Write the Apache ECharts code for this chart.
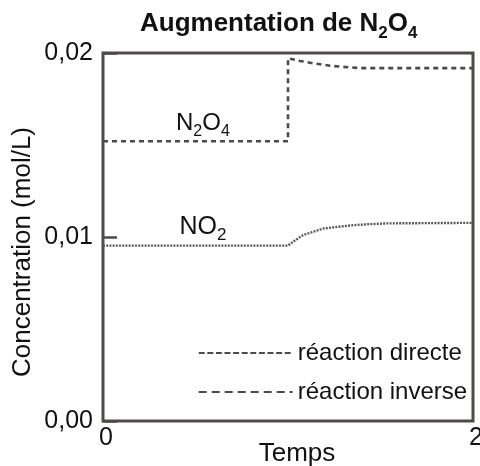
<!DOCTYPE html>
<html>
<head>
<meta charset="utf-8">
<script src="https://cdn.jsdelivr.net/npm/echarts@6/dist/echarts.min.js"></script>
<style>
  html, body { margin: 0; padding: 0; background: #fff; }
  #chart { width: 480px; height: 466px; }
</style>
</head>
<body>
<div id="chart"></div>
<script>
// Time axis (arbitrary units) and concentrations in mol/L
const timeNO2 = [0, 1.0, 1.027, 1.081, 1.135, 1.189, 1.265, 1.351, 1.443, 1.535, 2];
const concNO2 = [0.00953, 0.00953, 0.00974, 0.0101, 0.01028, 0.01046, 0.01055, 0.01064, 0.0107, 0.01074, 0.01077];

const timeN2O4 = [0, 1.0, 1.0, 1.065, 1.119, 1.173, 1.227, 1.281, 1.335, 1.389, 2];
const concN2O4 = [0.0152, 0.0152, 0.01971, 0.01957, 0.01947, 0.01939, 0.01931, 0.01926, 0.01922, 0.01918, 0.01918];

const yTicks = [0, 0.01, 0.02];
const xTicks = [0, 2];

// Where the species names sit, in data coordinates
const labelN2O4At = [0.54, 0.01612];
const labelNO2At = [0.54, 0.0105];

const legendText = { NO2: 'réaction directe', N2O4: 'réaction inverse' };

const FONT = '"Liberation Sans", Arial, Helvetica, sans-serif';

const pairs = (xs, ys) => xs.map((x, i) => [x, ys[i]]);

// Chemical formulas: main glyphs on top, subscripts dropped below the baseline
const formulaRich = (size, weight) => {
  const sub = Math.round(size * 0.66);
  return {
    n: { fontSize: size, fontWeight: weight, color: '#111', fontFamily: FONT, lineHeight: size + 2, verticalAlign: 'top' },
    s: { fontSize: sub, fontWeight: weight, color: '#111', fontFamily: FONT, lineHeight: sub, verticalAlign: 'top', padding: [Math.round(size * 0.52), 0, 0, 0] }
  };
};

const chart = echarts.init(document.getElementById('chart'), null, { renderer: 'canvas' });

chart.setOption({
  animation: false,
  backgroundColor: '#fff',
  title: {
    text: '{n|Augmentation de N}{s|2}{n|O}{s|4}',
    left: 135,
    top: 6,
    textStyle: { rich: formulaRich(26, 'bold') }
  },
  grid: {
    left: 103, right: 7, top: 53, bottom: 45,
    containLabel: false,
    outerBoundsMode: 'none',
    show: true,
    borderColor: '#4d4b45',
    borderWidth: 3,
    backgroundColor: 'transparent'
  },
  legend: {
    orient: 'vertical',
    left: 193,
    top: 336,
    itemWidth: 94,
    itemHeight: 14,
    itemGap: 15,
    selectedMode: false,
    formatter: name => legendText[name],
    textStyle: { fontSize: 24, color: '#111', fontFamily: FONT },
    itemStyle: { color: 'rgba(0,0,0,0)', borderWidth: 0, opacity: 0 },
    data: [
      { name: 'NO2', lineStyle: { type: [6, 2.6], color: '#111', width: 1.3 } },
      { name: 'N2O4', lineStyle: { type: [8, 5], color: '#111', width: 1.4 } }
    ]
  },
  xAxis: {
    type: 'value',
    min: xTicks[0],
    max: xTicks[xTicks.length - 1],
    interval: xTicks[xTicks.length - 1] - xTicks[0],
    name: 'Temps',
    nameLocation: 'middle',
    nameMoveOverlap: false,
    nameGap: 20,
    nameTextStyle: { fontSize: 26, color: '#111', fontFamily: FONT, padding: [0, 0, 0, 18] },
    axisLine: { show: false },
    axisTick: { show: false },
    splitLine: { show: false },
    axisLabel: { fontSize: 25, color: '#111', fontFamily: FONT, margin: 5, padding: [0, 0, 0, 6] }
  },
  yAxis: {
    type: 'value',
    min: yTicks[0],
    max: yTicks[yTicks.length - 1],
    interval: yTicks[1] - yTicks[0],
    name: 'Concentration (mol/L)',
    nameLocation: 'middle',
    nameMoveOverlap: false,
    nameRotate: 90,
    nameGap: 67,
    nameTextStyle: { fontSize: 26, color: '#111', fontFamily: FONT, padding: [0, 30, 0, 0] },
    axisLine: { show: false },
    axisTick: { show: true, inside: true, length: 14, lineStyle: { color: '#4d4b45', width: 2.5 } },
    splitLine: { show: false },
    axisLabel: {
      fontSize: 25, color: '#111', fontFamily: FONT, margin: 10,
      formatter: v => v.toFixed(2).replace('.', ',')
    }
  },
  series: [
    {
      name: 'N2O4',
      type: 'line',
      data: pairs(timeN2O4, concN2O4),
      symbol: 'none',
      showSymbol: false,
      lineStyle: { color: '#4a4a48', width: 2.6, type: [5, 4] },
      markPoint: {
        symbol: 'circle', symbolSize: 0,
        data: [{ coord: labelN2O4At }],
        label: { show: true, position: 'inside', formatter: '{n|N}{s|2}{n|O}{s|4}', rich: formulaRich(24, 'normal') }
      },
      z: 3
    },
    {
      name: 'NO2',
      type: 'line',
      data: pairs(timeNO2, concNO2),
      symbol: 'none',
      showSymbol: false,
      lineStyle: { color: '#5a5a58', width: 2.4, type: [2, 1.2] },
      markPoint: {
        symbol: 'circle', symbolSize: 0,
        data: [{ coord: labelNO2At }],
        label: { show: true, position: 'inside', formatter: '{n|NO}{s|2}', rich: formulaRich(25, 'normal') }
      },
      z: 3
    }
  ]
});
</script>
</body>
</html>
